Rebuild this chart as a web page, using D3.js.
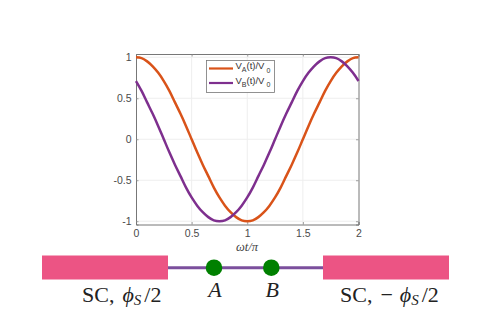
<!DOCTYPE html>
<html>
<head>
<meta charset="utf-8">
<script src="https://cdn.jsdelivr.net/npm/d3@7"></script>
<style>
html,body{margin:0;padding:0;background:#fff;}
svg{display:block;}
</style>
</head>
<body>
<script>
// values
const phase = [0,0.05,0.1,0.15,0.2,0.25,0.3,0.35,0.4,0.45,0.5,0.55,0.6,0.65,0.7,0.75,0.8,0.85,0.9,0.95,1,
               1.05,1.1,1.15,1.2,1.25,1.3,1.35,1.4,1.45,1.5,1.55,1.6,1.65,1.7,1.75,1.8,1.85,1.9,1.95,2];
const voltageA = [1,0.99,0.95,0.89,0.81,0.71,0.59,0.45,0.31,0.16,0,-0.16,-0.31,-0.45,-0.59,-0.71,-0.81,-0.89,-0.95,-0.99,-1,
                  -0.99,-0.95,-0.89,-0.81,-0.71,-0.59,-0.45,-0.31,-0.16,0,0.16,0.31,0.45,0.59,0.71,0.81,0.89,0.95,0.99,1];
const voltageB = [0.71,0.59,0.45,0.31,0.16,0,-0.16,-0.31,-0.45,-0.59,-0.71,-0.81,-0.89,-0.95,-0.99,-1,-0.99,-0.95,-0.89,-0.81,-0.71,
                  -0.59,-0.45,-0.31,-0.16,0,0.16,0.31,0.45,0.59,0.71,0.81,0.89,0.95,0.99,1,0.99,0.95,0.89,0.81,0.71];
const xTicks = [0,0.5,1,1.5,2];
const yTicks = [-1,-0.5,0,0.5,1];
const nodeNames = ["A","B"];

var width = 491, height = 310;
var svg = d3.select("body").append("svg").attr("width",width).attr("height",height);

var left = 136, right = 358.5, top_ = 54, bottom = 224.5;
var x = d3.scaleLinear().domain([0,2]).range([left,right]);
var y = d3.scaleLinear().domain([-1.04,1.04]).range([bottom,top_]);

// grid
svg.append("g").selectAll("line").data(xTicks.slice(1,-1)).enter().append("line")
   .attr("x1",d=>x(d)).attr("x2",d=>x(d)).attr("y1",top_).attr("y2",bottom)
   .attr("stroke","#eeeeee").attr("stroke-width",1);
svg.append("g").selectAll("line").data(yTicks).enter().append("line")
   .attr("x1",left).attr("x2",right).attr("y1",d=>y(d)).attr("y2",d=>y(d))
   .attr("stroke","#eeeeee").attr("stroke-width",1);

// axes, ticks point inward like matlab
var fmt = d=>String(d);
var axB = svg.append("g").attr("transform","translate(0,"+bottom+")")
   .call(d3.axisBottom(x).tickValues(xTicks).tickFormat(fmt).tickSize(-2.5).tickPadding(5));
var axT = svg.append("g").attr("transform","translate(0,"+top_+")")
   .call(d3.axisTop(x).tickValues(xTicks).tickFormat("").tickSize(-2.5));
var axL = svg.append("g").attr("transform","translate("+left+",0)")
   .call(d3.axisLeft(y).tickValues(yTicks).tickFormat(fmt).tickSize(-2.5).tickPadding(4.5));
var axR = svg.append("g").attr("transform","translate("+right+",0)")
   .call(d3.axisRight(y).tickValues(yTicks).tickFormat("").tickSize(-2.5));
[axB,axT,axL,axR].forEach(function(a){
    a.selectAll("path").attr("stroke","#777").attr("stroke-width",1);
    a.selectAll("line").attr("stroke","#888").attr("stroke-width",0.8);
    a.selectAll("text").attr("fill","#4a4a4a").attr("font-family","Liberation Sans").attr("font-size",10.5);
});

// curves
var line = d3.line().x((d,i)=>x(phase[i])).y(d=>y(d)).curve(d3.curveCatmullRom);
svg.append("path").datum(voltageA).attr("d",line).attr("fill","none").attr("stroke","#D95319").attr("stroke-width",2.5);
svg.append("path").datum(voltageB).attr("d",line).attr("fill","none").attr("stroke","#7E2F8E").attr("stroke-width",2.5);

// legend
var legend = svg.append("g");
legend.append("rect").attr("x",206.5).attr("y",60.5).attr("width",68).attr("height",32)
      .attr("fill","#fff").attr("stroke","#777").attr("stroke-width",0.8);
[["A","#D95319",68.5],["B","#7E2F8E",83]].forEach(function(s){
    legend.append("line").attr("x1",209).attr("x2",233).attr("y1",s[2]).attr("y2",s[2])
          .attr("stroke",s[1]).attr("stroke-width",2.2);
    var t = legend.append("text").attr("x",235.5).attr("y",s[2]+0.5).attr("fill","#333")
          .attr("font-family","Liberation Sans").attr("font-size",9.5);
    t.append("tspan").text("V");
    t.append("tspan").attr("dy",3).attr("font-size",7).text(s[0]);
    t.append("tspan").attr("dy",-3).text("(t)/V");
    t.append("tspan").attr("dy",3.5).attr("dx",2).attr("font-size",7).text("0");
});

// x label
var xl = svg.append("text").attr("x",247).attr("y",251).attr("text-anchor","middle").attr("fill","#444")
   .attr("font-family","Liberation Serif").attr("font-size",12.5).attr("font-style","italic");
xl.text("ωt/π");

// schematic
var wireY = 267.7;
svg.append("line").attr("x1",168).attr("x2",323).attr("y1",wireY).attr("y2",wireY)
   .attr("stroke","#7B4F9D").attr("stroke-width",3);
svg.append("rect").attr("x",42).attr("y",255.5).attr("width",126).attr("height",24).attr("fill","#EC5484");
svg.append("rect").attr("x",323).attr("y",255.5).attr("width",126).attr("height",24).attr("fill","#EC5484");

var nodeX = d3.scalePoint().domain(nodeNames).range([214,271.3]);
svg.append("g").selectAll("circle").data(nodeNames).enter().append("circle")
   .attr("cx",d=>nodeX(d)).attr("cy",wireY).attr("r",8.3).attr("fill","#008000");
svg.append("g").selectAll("text").data(nodeNames).enter().append("text")
   .attr("x",d=>nodeX(d)+1).attr("y",297).attr("text-anchor","middle").attr("fill","#222")
   .attr("font-family","Liberation Serif").attr("font-style","italic").attr("font-size",22).text(d=>d);

function scLabel(px,minus){
    var t = svg.append("text").attr("x",px).attr("y",302).attr("fill","#222")
       .attr("font-family","Liberation Serif").attr("font-size",22);
    t.append("tspan").text("SC,");
    if(minus) t.append("tspan").attr("dx",8).text("−");
    t.append("tspan").attr("dx",minus?7:8).attr("font-style","italic").text("ϕ");
    t.append("tspan").attr("font-style","italic").attr("font-size",15).attr("dy",3).text("S");
    t.append("tspan").attr("dx",3).attr("dy",-3).text("/2");
}
scLabel(82,false);
scLabel(340,true);
</script>
</body>
</html>
